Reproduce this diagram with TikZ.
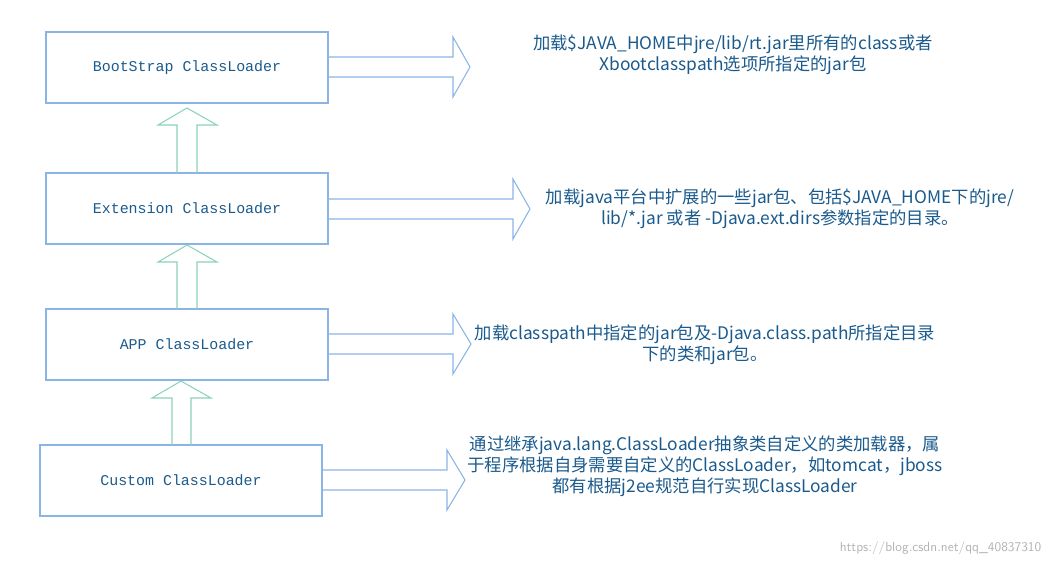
\documentclass[tikz,border=0pt]{standalone}
\usepackage{fontspec}
\setmainfont{Liberation Mono}
\newfontfamily\cjk{Noto Sans CJK SC}
\definecolor{bx}{HTML}{8AB4E6}
\definecolor{gr}{HTML}{8CD3BA}
\definecolor{tx}{HTML}{1A5A8C}
\begin{document}
\begin{tikzpicture}[x=0.75pt,y=-0.75pt,
  box/.style={draw=bx,line width=0.8pt,minimum width=282*0.75pt,minimum height=71*0.75pt,inner sep=0,text=tx,font=\fontsize{11.2}{13}\selectfont},
  desc/.style={text=tx,align=center,font=\cjk\fontsize{13}{15.8}\selectfont,inner sep=0}]
\useasboundingbox (0,0) rectangle (1054,565);
\node[box] (b1) at (187,67.5) {BootStrap ClassLoader};
\node[box] (b2) at (187,208.5) {Extension ClassLoader};
\node[box] (b3) at (187,344.5) {APP ClassLoader};
\node[box] (b4) at (181,480.5) {Custom ClassLoader};
% right arrows
\foreach \n/\y/\hx/\tx in {b1/67/453/470, b2/209/513/530, b3/344/453/471, b4/480/447/465}{
  \draw[bx,line width=0.8pt] (\n.east |- 0,\y-10) -- (\hx,\y-10) -- (\hx,\y-30) -- (\tx,\y) -- (\hx,\y+30) -- (\hx,\y+10) -- (\n.east |- 0,\y+10);
}
% up arrows
\draw[gr,line width=0.8pt] (177,173) -- (177,125) -- (158,125) -- (187,108) -- (217,125) -- (197,125) -- (197,173);
\draw[gr,line width=0.8pt] (177,309) -- (177,262) -- (158,262) -- (187,245) -- (217,262) -- (197,262) -- (197,309);
\draw[gr,line width=0.8pt] (172,445) -- (172,398) -- (152,398) -- (181,381) -- (211,398) -- (191,398) -- (191,445);
\node[desc] (t1) at (733,55) {加载\$JAVA\_HOME中jre/lib/rt.jar里所有的class或者\\Xbootclasspath选项所指定的jar包};
\node[desc] (t2) at (780,209) {加载java平台中扩展的一些jar包、包括\$JAVA\_HOME下的jre/\\lib/*.jar 或者 -Djava.ext.dirs参数指定的目录。};
\node[desc] (t3) at (705,345) {加载classpath中指定的jar包及-Djava.class.path所指定目录\\下的类和jar包。};
\node[desc] (t4) at (705,466) {通过继承java.lang.ClassLoader抽象类自定义的类加载器，属\\于程序根据自身需要自定义的ClassLoader，如tomcat，jboss\\都有根据j2ee规范自行实现ClassLoader};
\node[text=gray!60,font=\fontfamily{}\sffamily\fontsize{10}{12}\selectfont,anchor=east] (wm) at (1046,548) {https://blog.csdn.net/qq\_40837310};
\end{tikzpicture}
\end{document}
